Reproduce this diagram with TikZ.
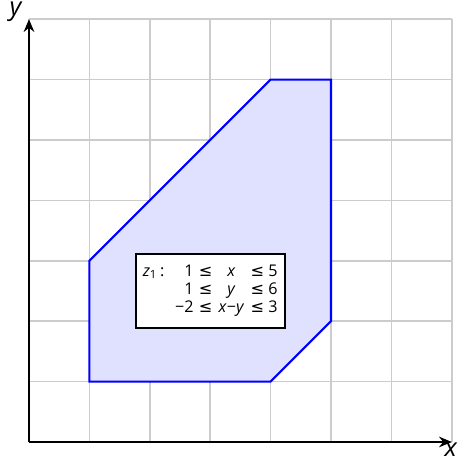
\documentclass[tikz,border=0pt]{standalone}
\usepackage{fontspec}
\setmainfont{Open Sans}
\newfontfamily\symfont{DejaVu Sans}
\usetikzlibrary{arrows.meta}
\newcommand{\leqs}{{\symfont ≤}}
\newcommand{\vx}{\textit{x}}
\newcommand{\vy}{\textit{y}}
\tikzset{
  gridline/.style={gray!40, line width=0.8pt},
  axisline/.style={black, line width=0.9pt, -{Stealth[length=6pt,width=5pt]}},
  region/.style={draw=blue, fill=blue!12, line width=1pt, line join=miter},
  labelbox/.style={draw=black, fill=white, line width=0.9pt, inner sep=2pt, font=\fontsize{7.6}{9}\selectfont},
  axislabel/.style={font=\fontsize{12}{14}\selectfont}
}
\begin{document}
\begin{tikzpicture}[x=1cm,y=1cm]
\useasboundingbox (-0.48,-0.348) rectangle (7.12,7.318);
\draw[gridline] (0,0) grid (7,7);
\filldraw[region] (1,1) -- (4,1) -- (5,2) -- (5,6) -- (4,6) -- (1,3) -- cycle;
\coordinate (O) at (0,0);
\coordinate (xe) at (7,0);
\coordinate (ye) at (0,7);
\draw[axisline] (O) -- (xe);
\draw[axisline] (O) -- (ye);
\node[axislabel, anchor=north, inner sep=1pt] (xl) at (6.99,0.02) {\vx};
\node[axislabel, anchor=east] (yl) at (0.02,7.12) {\vy};
\node[labelbox, minimum width=2.47cm, minimum height=1.22cm] (box) at (3.0,2.5) {%
\begin{tabular}{@{}l@{\hspace{5pt}}r@{\hspace{2.5pt}}c@{\hspace{3pt}}c@{\hspace{3pt}}l@{}}
\textit{z}\textsubscript{1}\,: & 1 & \leqs & \vx & \leqs\ 5\\[-0.5pt]
 & 1 & \leqs & \vy & \leqs\ 6\\[-0.5pt]
 & −2 & \leqs & \vx−\vy & \leqs\ 3
\end{tabular}};
\end{tikzpicture}
\end{document}
